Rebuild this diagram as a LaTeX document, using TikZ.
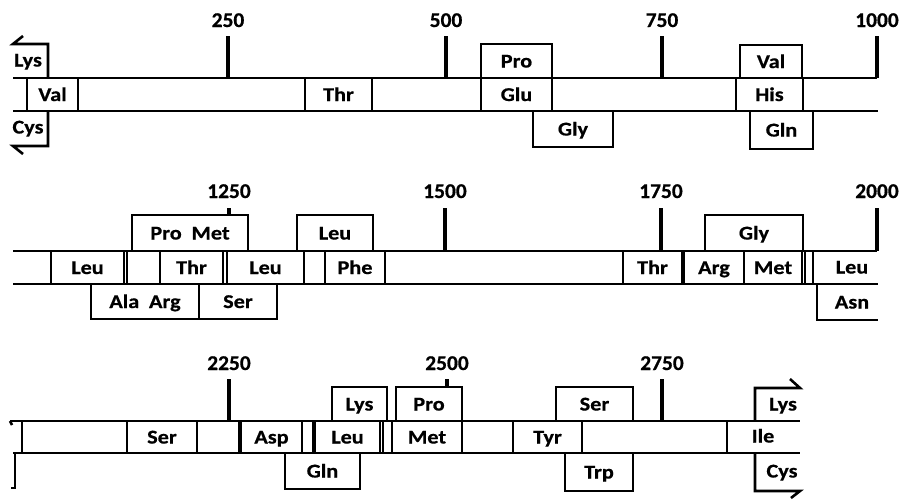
\documentclass[tikz,border=0pt]{standalone}
\usepackage{fontspec}
\newfontfamily\lblfont{Carlito}[FakeStretch=1.14, FakeBold=0.6]
\newfontfamily\numfont{Carlito}[FakeStretch=1.02, FakeBold=0.6]
\newcommand\gbox[6]{\node[box, minimum width={#3-#2}, minimum height={#5-#4}] (#1) at ({(#2+#3)/2},{(#4+#5)/2}) {#6};}
\begin{document}
\begin{tikzpicture}[x=1pt,y=-1pt,
  txt/.style={font=\lblfont\bfseries\fontsize{19.5}{20}\selectfont, inner sep=0pt, text height=13pt, text depth=0pt},
  box/.style={txt, draw, line width=2.6pt, fill=white, outer sep=0pt},
  strand/.style={line width=2.8pt},
  tick/.style={line width=4.2pt},
  edge/.style={line width=2.6pt},
  num/.style={txt, font=\numfont\bfseries\fontsize{21}{22}\selectfont, anchor=base}]
\useasboundingbox (0,0) rectangle (900,499);

% ---------------- Row 1 ----------------
\coordinate (r1tl) at (13,78);  \coordinate (r1tr) at (877,78);
\coordinate (r1bl) at (13,111); \coordinate (r1br) at (878,111);
\draw[strand] (r1tl) -- (r1tr);
\draw[strand] (r1bl) -- (r1br);
\foreach \x/\n/\t in {228/a/250,446/b/500,662/c/750,877/d/1000}{
  \node[num] (n1\n) at (\x,27) {\t};
  \coordinate (t1\n) at (\x,36);
  \coordinate (b1\n) at (\x,78);
  \draw[tick] (t1\n) -- (b1\n);
}
% left arrows
\coordinate (l1a) at (48,78); \coordinate (l1b) at (48,44); \coordinate (l1c) at (13,44); \coordinate (l1d) at (23,36);
\draw[edge] (l1a) -- (l1b) -- (l1c) -- (l1d);
\coordinate (l2a) at (48,111); \coordinate (l2b) at (48,146); \coordinate (l2c) at (13,146); \coordinate (l2d) at (23,154);
\draw[edge] (l2a) -- (l2b) -- (l2c) -- (l2d);
\node[txt] (lys1) at (28,60) {Lys};
\node[txt] (cys1) at (28,127) {Cys};
\gbox{val1}{27}{78}{78}{111}{Val}
\gbox{thr1}{305}{372}{78}{111}{Thr}
\gbox{glu1}{481}{552}{78}{111}{Glu}
\gbox{pro1}{481}{552}{44}{78}{Pro}
\gbox{gly1}{533}{613}{111}{147}{Gly}
\gbox{his1}{736}{803}{78}{111}{His}
\gbox{val2}{740}{802}{45}{78}{Val}
\gbox{gln1}{750}{813}{111}{149}{Gln}

% ---------------- Row 2 ----------------
\coordinate (r2tl) at (13,251);  \coordinate (r2tr) at (877,251);
\coordinate (r2bl) at (13,284); \coordinate (r2br) at (878,284);
\draw[strand] (r2tl) -- (r2tr);
\draw[strand] (r2bl) -- (r2br);
\foreach \x/\n/\t in {229/a/1250,445/b/1500,661/c/1750,877/d/2000}{
  \node[num] (n2\n) at (\x,198) {\t};
  \coordinate (t2\n) at (\x,208);
  \coordinate (b2\n) at (\x,251);
  \draw[tick] (t2\n) -- (b2\n);
}
\gbox{leu21}{51}{124}{251}{284}{Leu}
\gbox{e21}{127}{160}{251}{284}{}
\gbox{thr21}{160}{223}{251}{284}{Thr}
\gbox{leu22}{227}{304}{251}{284}{Leu}
\gbox{e22}{304}{325}{251}{284}{}
\gbox{phe21}{325}{385}{251}{284}{Phe}
\gbox{thr22}{623}{682}{251}{284}{Thr}
\gbox{arg21}{684}{744}{251}{284}{Arg}
\gbox{met21}{744}{802}{251}{284}{Met}
\gbox{e23}{805}{813}{251}{284}{}
\gbox{promet}{132}{248}{215}{251}{Pro\hspace{0.5em}Met}
\gbox{leu23}{297}{373}{215}{251}{Leu}
\gbox{gly21}{705}{803}{215}{251}{Gly}
\gbox{alaarg}{91}{199}{284}{319}{Ala\hspace{0.5em}Arg}
\gbox{ser21}{199}{277}{284}{319}{Ser}
% open-ended boxes at the right
\coordinate (lr2a) at (813,251); \coordinate (lr2b) at (813,284);
\draw[edge] (lr2a) -- (lr2b);
\node[txt] (leu24) at (852,267) {Leu};
\coordinate (as2a) at (817,284); \coordinate (as2b) at (817,320); \coordinate (as2c) at (878,320);
\draw[edge] (as2a) -- (as2b) -- (as2c);
\node[txt] (asn21) at (852,302) {Asn};

% ---------------- Row 3 ----------------
\coordinate (r3tl) at (10,421);  \coordinate (r3tr) at (800,421);
\coordinate (r3bl) at (13,453); \coordinate (r3br) at (800,453);
\draw[strand] (r3tl) -- (r3tr);
\draw[strand] (r3bl) -- (r3br);
\foreach \x/\n/\t in {229/a/2250,447/b/2500,662/c/2750}{
  \node[num] (n3\n) at (\x,370) {\t};
  \coordinate (t3\n) at (\x,379);
  \coordinate (b3\n) at (\x,421);
  \draw[tick] (t3\n) -- (b3\n);
}
% left end marks
\coordinate (le3a) at (15,453); \coordinate (le3b) at (15,488); \coordinate (le3c) at (11,488);
\draw[edge] (le3a) -- (le3b) -- (le3c);
\coordinate (le3d) at (10,421); \coordinate (le3e) at (12,425);
\draw[edge] (le3d) -- (le3e);
\gbox{e31}{22}{127}{421}{453}{}
\gbox{ser31}{127}{197}{421}{453}{Ser}
\gbox{e32}{197}{239}{421}{453}{}
\gbox{asp31}{241}{302}{421}{453}{Asp}
\gbox{e33}{302}{313}{421}{453}{}
\gbox{leu31}{315}{380}{421}{453}{Leu}
\gbox{e34}{383}{392}{421}{453}{}
\gbox{met31}{392}{462}{421}{453}{Met}
\gbox{e35}{462}{513}{421}{453}{}
\gbox{tyr31}{513}{582}{421}{453}{Tyr}
\gbox{e36}{582}{727}{421}{453}{}
\gbox{lys31}{332}{387}{387}{421}{Lys}
\gbox{pro31}{396}{462}{387}{421}{Pro}
\gbox{ser32}{556}{633}{387}{421}{Ser}
\gbox{gln31}{285}{360}{453}{489}{Gln}
\gbox{trp31}{565}{633}{453}{491}{Trp}
% open-ended Ile box and right arrows
\coordinate (il3a) at (727,421); \coordinate (il3b) at (727,453);
\draw[edge] (il3a) -- (il3b);
\node[txt] (ile31) at (763,436) {Ile};
\coordinate (ra1) at (755,421); \coordinate (ra2) at (755,388); \coordinate (ra3) at (800,388); \coordinate (ra4) at (790,379);
\draw[edge] (ra1) -- (ra2) -- (ra3) -- (ra4);
\coordinate (rb1) at (755,453); \coordinate (rb2) at (755,491); \coordinate (rb3) at (800,491); \coordinate (rb4) at (791,498);
\draw[edge] (rb1) -- (rb2) -- (rb3) -- (rb4);
\node[txt] (lys32) at (783,404) {Lys};
\node[txt] (cys31) at (782,471) {Cys};
\end{tikzpicture}
\end{document}
